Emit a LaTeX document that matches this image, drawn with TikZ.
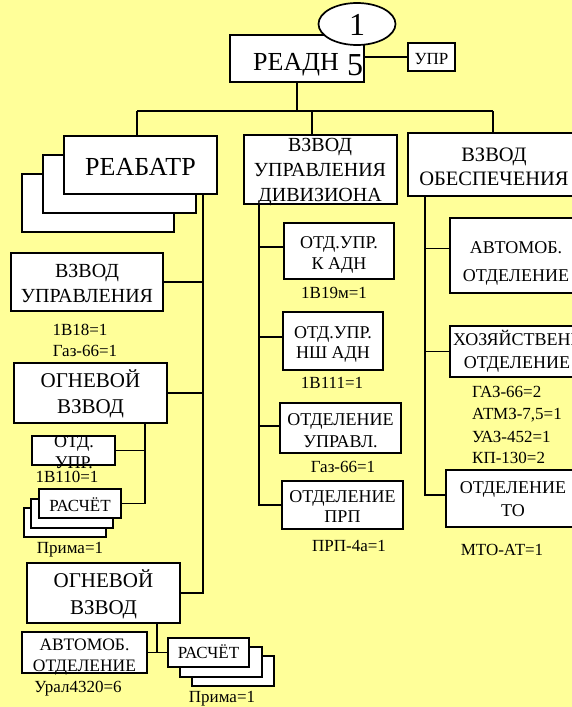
\documentclass[tikz,border=0pt]{standalone}
\usepackage{fontspec}
\setmainfont{Liberation Serif}
\usetikzlibrary{shapes.geometric}
\definecolor{bg}{RGB}{255,255,153}
\newcommand\fz[1]{\fontsize{#1pt}{#1pt}\selectfont}
\newcommand\boxat[5]{\node[bx,minimum width={(#4-#2)*1pt},minimum height={(#5-#3)*1pt}] (#1) at ({(#2+#4)/2},{(#3+#5)/2}) {};}
\tikzset{
  bx/.style={draw=black, fill=white, line width=1.7pt, inner sep=0pt, outer sep=0pt},
  ln/.style={draw=black, line width=1.7pt},
  tx/.style={anchor=base, inner sep=0pt, font=\fz{#1}},
  txw/.style={anchor=base west, inner sep=0pt, font=\fz{#1}}
}
\begin{document}
\begin{tikzpicture}[x=1pt,y=-1pt]
\fill[bg] (0,0) rectangle (572,707);
\useasboundingbox (0,0) rectangle (572,707);

% ---- boxes ----
\boxat{readn}{230}{35}{364}{82}
\node[bx, ellipse, minimum width=77pt, minimum height=42pt] (one) at (357,24) {};
\boxat{upr}{408}{43}{455}{71}

\boxat{rb3}{22}{174}{174}{232}
\boxat{rb2}{43}{155}{196}{213}
\boxat{rb1}{64}{136}{217}{194}

\boxat{vu}{11}{253}{163}{311}
\boxat{og1}{14}{363}{167}{423}
\boxat{otd}{32}{436}{115}{465}
\boxat{rs3}{24}{508}{106}{537}
\boxat{rs2}{31}{499}{113}{528}
\boxat{rs1}{39}{489}{121}{518}
\boxat{og2}{27}{563}{180}{623}
\boxat{ao}{22}{632}{147}{673}
\boxat{rc3}{192}{656}{274}{686}
\boxat{rc2}{180}{647}{262}{677}
\boxat{rc1}{168}{638}{249}{667}

\boxat{vud}{244}{135}{397}{204}
\boxat{k}{284}{223}{394}{279}
\boxat{n}{283}{312}{383}{370}
\boxat{u}{280}{403}{401}{453}
\boxat{p}{282}{481}{403}{529}

\boxat{vo}{408}{133}{580}{196}
\boxat{am}{450}{218}{580}{293}
\boxat{hz}{450}{326}{580}{377}
\boxat{to}{446}{470}{580}{527}

% ---- connectors ----
\coordinate (busL) at (137,111);
\coordinate (busM) at (312,111);
\coordinate (busR) at (493,111);
\coordinate (spL) at (203,0);
\coordinate (sp1) at (145,0);
\coordinate (sp2) at (157,0);
\coordinate (spM) at (259,0);
\coordinate (spR) at (425,0);

\draw[ln] (readn.east |- upr.west) -- (upr.west);
\draw[ln] (readn.south) -- (readn.south |- busL);
\draw[ln] (busL) -- (busR);
\draw[ln] (busL) -- (busL |- rb1.north);
\draw[ln] (busM) -- (busM |- vud.north);
\draw[ln] (busR) -- (busR |- vo.north);

\draw[ln] (rb1.south -| spL) -- (og2.east -| spL) -- (og2.east);
\draw[ln] (vu.east) -- (vu.east -| spL);
\draw[ln] (og1.east) -- (og1.east -| spL);
\draw[ln] (og1.south -| sp1) -- (rs1.east -| sp1) -- (rs1.east);
\draw[ln] (otd.east) -- (otd.east -| sp1);
\draw[ln] (og2.south -| sp2) -- (ao.east -| sp2);
\draw[ln] (ao.east) -- (rc1.west);

\draw[ln] (vud.south -| spM) -- (p.west -| spM) -- (p.west);
\draw[ln] ([yshift=4pt]k.west) -- ([yshift=4pt]k.west -| spM);
\draw[ln] ([yshift=4pt]n.west) -- ([yshift=4pt]n.west -| spM);
\draw[ln] ([yshift=2pt]u.west) -- ([yshift=2pt]u.west -| spM);

\draw[ln] (vo.south -| spR) -- ([yshift=3.5pt]to.west -| spR) -- ([yshift=3.5pt]to.west);
\draw[ln] ([yshift=7pt]am.west) -- ([yshift=7pt]am.west -| spR);
\draw[ln] (hz.west) -- (hz.west -| spR);

% ---- texts ----
\node[txw=26] (t-readn) at (253,70) {РЕАДН};
\node[tx=32] (t-five) at (355,75) {5};
\node[tx=32] (t-one) at (357,35) {1};
\node[tx=17] (t-upr) at (431.5,64) {УПР};

\node[tx=26] (t-rb) at (140.5,175) {РЕАБАТР};

\node[tx=20] (t-vu1) at (87,277) {ВЗВОД};
\node[tx=20] (t-vu2) at (87,302) {УПРАВЛЕНИЯ};
\node[tx=17] (l-1v18) at (80,335) {1В18=1};
\node[tx=17] (l-gaz1) at (85,356) {Газ-66=1};

\node[tx=21] (t-og1a) at (90.5,387) {ОГНЕВОЙ};
\node[tx=21] (t-og1b) at (90.5,413) {ВЗВОД};
\node[tx=18] (t-otd1) at (74,447) {ОТД.};
\node[tx=18] (t-otd2) at (74,468) {УПР.};
\node[tx=17] (l-1v110) at (67,482) {1В110=1};
\node[tx=17] (t-rs) at (80,511) {РАСЧЁТ};
\node[tx=17] (l-prima1) at (70,553) {Прима=1};

\node[tx=21] (t-og2a) at (103.5,587) {ОГНЕВОЙ};
\node[tx=21] (t-og2b) at (103.5,614) {ВЗВОД};
\node[tx=17.5] (t-ao1) at (84.5,650) {АВТОМОБ.};
\node[tx=17.5] (t-ao2) at (84.5,671) {ОТДЕЛЕНИЕ};
\node[tx=17] (l-ural) at (78,692) {Урал4320=6};
\node[tx=17] (t-rc) at (208.5,658) {РАСЧЁТ};
\node[tx=17] (l-prima2) at (222,702) {Прима=1};

\node[tx=20] (t-vud1) at (320,151) {ВЗВОД};
\node[tx=20] (t-vud2) at (320,176) {УПРАВЛЕНИЯ};
\node[tx=20] (t-vud3) at (320,201) {ДИВИЗИОНА};
\node[tx=18] (t-k1) at (339,248) {ОТД.УПР.};
\node[tx=18] (t-k2) at (339,269) {К АДН};
\node[tx=17] (l-1v19) at (334,298) {1В19м=1};
\node[tx=18] (t-n1) at (333,338) {ОТД.УПР.};
\node[tx=18] (t-n2) at (333,358) {НШ АДН};
\node[tx=17] (l-1v111) at (332,388) {1В111=1};
\node[tx=18] (t-u1) at (340.5,425) {ОТДЕЛЕНИЕ};
\node[tx=18] (t-u2) at (340.5,447) {УПРАВЛ.};
\node[tx=17] (l-gaz2) at (343,472) {Газ-66=1};
\node[tx=18] (t-p1) at (342.5,502) {ОТДЕЛЕНИЕ};
\node[tx=18] (t-p2) at (342.5,522) {ПРП};
\node[tx=17] (l-prp) at (349,551) {ПРП-4а=1};

\node[tx=20.5] (t-vo1) at (494,161) {ВЗВОД};
\node[tx=20.5] (t-vo2) at (494,185) {ОБЕСПЕЧЕНИЯ};
\node[tx=18] (t-am1) at (516,253) {АВТОМОБ.};
\node[tx=18] (t-am2) at (516,281) {ОТДЕЛЕНИЕ};
\node[txw=18] (t-hz1) at (453,345) {ХОЗЯЙСТВЕННОЕ};
\node[tx=18] (t-hz2) at (517,368) {ОТДЕЛЕНИЕ};
\node[txw=17] (l-gaz3) at (472,397) {ГАЗ-66=2};
\node[txw=17] (l-atmz) at (472,419) {АТМЗ-7,5=1};
\node[txw=17] (l-uaz) at (472,442) {УАЗ-452=1};
\node[txw=17] (l-kp) at (472,463) {КП-130=2};
\node[tx=18] (t-to1) at (513,493) {ОТДЕЛЕНИЕ};
\node[tx=18] (t-to2) at (513,516) {ТО};
\node[tx=17] (l-mto) at (502,555) {МТО-АТ=1};
\end{tikzpicture}
\end{document}
